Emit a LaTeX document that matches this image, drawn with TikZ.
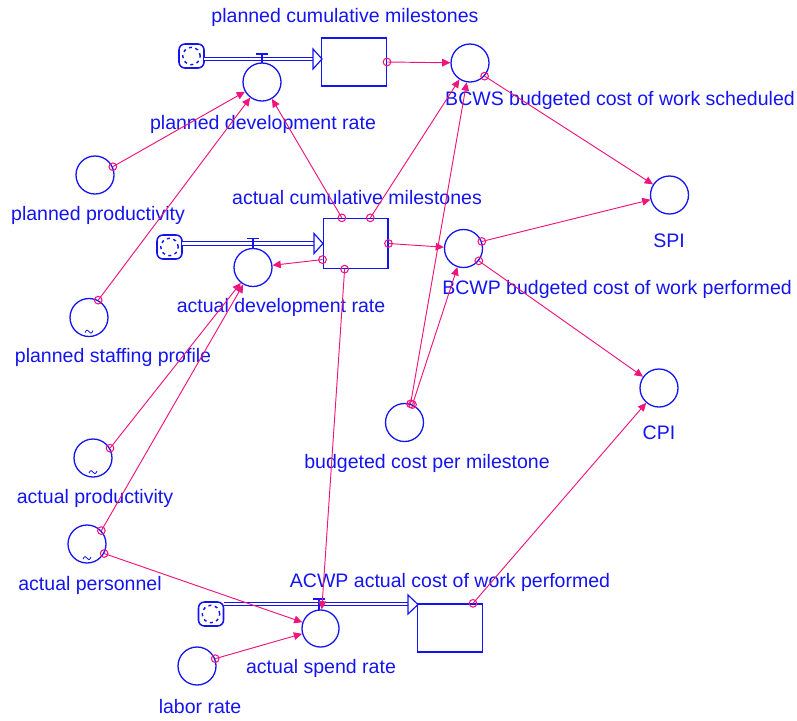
\documentclass[tikz,border=0pt]{standalone}
\usepackage{fontspec}
\setmainfont{Liberation Sans}
\usetikzlibrary{arrows.meta}
\definecolor{vblue}{RGB}{20,20,240}
\definecolor{vlink}{RGB}{240,20,125}

\tikzset{
  % source/sink cloud at the open end of a flow pipe
  cloudsrc/.pic={
    \draw[vblue, line width=1.3pt, rounded corners=5pt] (-12.5,-12) rectangle (12.5,12);
    \draw[vblue, line width=1.2pt, dash pattern=on 2.6pt off 3pt] (0,0) circle (7.4pt);
  },
  % graphical-function mark inside an auxiliary
  tildemark/.pic={
    \draw[vblue, line width=0.7pt] (-4,1) .. controls (-2.5,-2.5) and (-1,-2) .. (0,0) .. controls (1,2) and (2.5,2.5) .. (4,-1);
  },
  % valve on a pipe
  valve/.pic={
    \draw[vblue, line width=1pt] (-6,0) -- (6,0) (0,0) -- (0,#1);
  },
}

\begin{document}
\begin{tikzpicture}[x=0.85pt,y=-0.85pt,
  every node/.style={font=\fontsize{16.6}{19}\selectfont},
  lbl/.style={text=vblue, inner sep=0pt},
  aux/.style={circle, draw=vblue, line width=1.1pt, minimum size=32.3pt, inner sep=0pt},
  stock/.style={rectangle, draw=vblue, line width=1.1pt, minimum width=55pt, minimum height=40.8pt, inner sep=0pt},
  pipe/.style={draw=vblue, line width=0.9pt, double=white, double distance=2pt},
  pipehead/.style={draw=vblue, fill=white, line width=1pt},
  link/.style={draw=vlink, line width=0.8pt, -{Triangle[length=7pt,width=6.5pt]}},
  orig/.style={circle, draw=vlink, line width=0.9pt, minimum size=6.5pt, inner sep=0pt},
]
\useasboundingbox (0,0) rectangle (797,720);

% ---------- stocks ----------
\node[stock] (pcm) at (354,62) {};
\node[stock, minimum height=42.5pt] (acm) at (355.5,243.5) {};
\node[stock] (acwp) at (450,628) {};

% ---------- clouds ----------
\coordinate (c1) at (191.5,56);
\coordinate (c2) at (169.5,247);
\coordinate (c3) at (211,614);
\pic at (c1) {cloudsrc};
\pic at (c2) {cloudsrc};
\pic at (c3) {cloudsrc};

% ---------- pipes ----------
\draw[pipe] (204,59) -- (313,59);
\draw[pipehead] (313,49) -- (322,59) -- (313,69) -- cycle;
\draw[pipe] (182,243.5) -- (314,243.5);
\draw[pipehead] (314,233.5) -- (323,243.5) -- (314,253.5) -- cycle;
\draw[pipe] (224,604) -- (408,604);
\draw[pipehead] (408,595) -- (418,604.5) -- (408,614) -- cycle;

% ---------- valves ----------
\pic at (262,54) {valve=9};
\pic at (253,238.5) {valve=10};
\pic at (319,599) {valve=11};

% ---------- flow rates ----------
\node[aux] (pdr) at (262,82) {};
\node[aux] (adr) at (253,267.5) {};
\node[aux, minimum size=31.5pt] (asr) at (320.5,628.5) {};

% ---------- auxiliaries ----------
\node[aux] (bcws) at (470,63) {};
\node[aux] (spi) at (669.5,195) {};
\node[aux] (bcwp) at (463.5,248.5) {};
\node[aux] (cpi) at (659,388) {};
\node[aux] (bcpm) at (404.5,422.5) {};
\node[aux] (pprod) at (95,175) {};
\node[aux] (pstaff) at (89,317.5) {};
\node[aux] (aprod) at (93,458) {};
\node[aux] (apers) at (87,544) {};
\node[aux] (labor) at (197,666) {};

\pic at ([yshift=-12pt]pstaff.center) {tildemark};
\pic at ([yshift=-12pt]aprod.center) {tildemark};
\pic at ([yshift=-12pt]apers.center) {tildemark};

% ---------- labels ----------
\node[lbl] (tpcm) at (345,17) {planned cumulative milestones};
\node[lbl] (tpdr) at (263,124) {planned development rate};
\node[lbl] (tpprod) at (98,215) {planned productivity};
\node[lbl] (tacm) at (357,198) {actual cumulative milestones};
\node[lbl] (tbcws) at (620,100) {BCWS budgeted cost of work scheduled};
\node[lbl] (tspi) at (669,241) {SPI};
\node[lbl] (tbcwp) at (617,289) {BCWP budgeted cost of work performed};
\node[lbl] (tadr) at (281,307) {actual development rate};
\node[lbl] (tpstaff) at (113,357) {planned staffing profile};
\node[lbl] (tcpi) at (659,433) {CPI};
\node[lbl] (tbcpm) at (427,463) {budgeted cost per milestone};
\node[lbl] (taprod) at (95,498) {actual productivity};
\node[lbl] (tapers) at (90,585) {actual personnel};
\node[lbl] (tacwp) at (450,582) {ACWP actual cost of work performed};
\node[lbl] (tasr) at (321,668) {actual spend rate};
\node[lbl] (tlabor) at (200,707) {labor rate};

% ---------- information links ----------
\draw[link] (pcm.east) node[orig]{} -- (bcws);
\draw[link] (bcws.-42) node[orig]{} -- (spi);
\draw[link] (pprod.25) node[orig]{} -- (pdr);
\draw[link] (pstaff.62) node[orig]{} -- (pdr);
\draw[link] (acm.118) node[orig]{} -- (pdr);
\draw[link] (acm.60) node[orig]{} -- (bcws);
\draw[link] (acm.206) node[orig]{} -- (adr);
\draw[link] (acm.east) node[orig]{} -- (bcwp);
\draw[link] (acm.247) node[orig]{} -- (asr);
\draw[link] (bcwp.21) node[orig]{} -- (spi);
\draw[link] (bcwp.-39) node[orig]{} -- (cpi);
\draw[link] (bcpm.72) node[orig]{} -- (bcws);
\draw[link] (bcpm.66) node[orig]{} -- (bcwp);
\draw[link] (aprod.30) node[orig]{} -- (adr);
\draw[link] (apers.43) node[orig]{} -- (adr);
\draw[link] (apers.-29) node[orig]{} -- (asr);
\draw[link] (labor.22) node[orig]{} -- (asr);
\draw[link] (acwp.47) node[orig]{} -- (cpi);
\end{tikzpicture}
\end{document}
